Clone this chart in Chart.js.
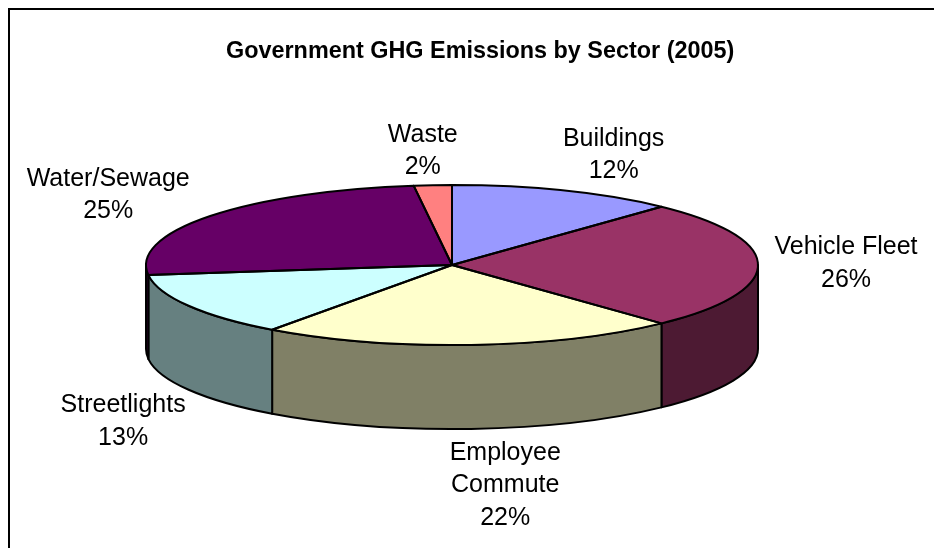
<!DOCTYPE html>
<html>
<head>
<meta charset="utf-8">
<title>Government GHG Emissions by Sector (2005)</title>
<script src="https://cdn.jsdelivr.net/npm/chart.js@4/dist/chart.umd.min.js"></script>
<style>
  html, body { margin: 0; padding: 0; background: #fff; }
  canvas { display: block; }
</style>
</head>
<body>
<canvas id="pieChart" width="934" height="548"></canvas>
<script>
const sectors = ["Buildings", "Vehicle Fleet", "Employee Commute", "Streetlights", "Water/Sewage", "Waste"];
const shares = [12, 26, 22, 13, 25, 2];

const topColors = ["#9999FF", "#993366", "#FFFFCC", "#CCFFFF", "#660066", "#FF8080"];
const wallColors = ["#4D4D80", "#4D1A33", "#808066", "#668080", "#330033", "#804040"];

// how the labels wrap, and where they sit relative to the rim of their slice
const labelLines = [["Buildings"], ["Vehicle Fleet"], ["Employee", "Commute"], ["Streetlights"], ["Water/Sewage"], ["Waste"]];
const labelOffsets = [[49, -35.5], [88, -1.5], [34, 140.5], [-65.5, 116], [-102, -21], [-10, -34]];

const RADIUS = 306;
const TILT = 80 / 306;   // squash of the top face
const DEPTH = 84;        // wall height
const EDGE = 2;
const TITLE_LEFT = 226;

const pie3d = {
  id: "pie3d",
  afterLayout(chart) {
    // the title is not centred over the pie
    chart.titleBlock.left = TITLE_LEFT;
    chart.titleBlock.right = chart.width;
  },
  beforeDraw(chart) {
    // the chart frame only shows on its top and left sides
    const ctx = chart.ctx;
    ctx.save();
    ctx.fillStyle = "#000";
    ctx.fillRect(8, 8, chart.width - 8, 2);
    ctx.fillRect(8, 8, 2, chart.height - 8);
    ctx.restore();
  },
  beforeDatasetsDraw(chart) {
    const ctx = chart.ctx;
    const arcs = chart.getDatasetMeta(0).data;
    const cx = arcs[0].x, cy = arcs[0].y;
    const ry = RADIUS * TILT;

    ctx.save();
    ctx.strokeStyle = "#000";
    ctx.lineWidth = EDGE;
    ctx.lineJoin = "round";
    arcs.forEach((arc, i) => {
      // only the front half of the rim has a visible wall
      const a0 = Math.max(arc.startAngle, 0);
      const a1 = Math.min(arc.endAngle, Math.PI);
      if (a1 <= a0) return;
      ctx.beginPath();
      ctx.ellipse(cx, cy, RADIUS, ry, 0, a0, a1);
      ctx.ellipse(cx, cy + DEPTH, RADIUS, ry, 0, a1, a0, true);
      ctx.closePath();
      ctx.fillStyle = wallColors[i];
      ctx.fill();
      ctx.stroke();
    });
    ctx.restore();

    // the arcs themselves are drawn by the library, flattened
    ctx.save();
    ctx.translate(cx, cy);
    ctx.scale(1, TILT);
    ctx.translate(-cx, -cy);
  },
  afterDatasetsDraw(chart) {
    const ctx = chart.ctx;
    ctx.restore();

    const arcs = chart.getDatasetMeta(0).data;
    const cx = arcs[0].x, cy = arcs[0].y;
    const ry = RADIUS * TILT;

    // outlines go on after the flattening so the line width stays even
    ctx.save();
    ctx.strokeStyle = "#000";
    ctx.lineWidth = EDGE;
    ctx.lineJoin = "round";
    arcs.forEach(arc => {
      ctx.beginPath();
      ctx.moveTo(cx, cy);
      ctx.ellipse(cx, cy, RADIUS, ry, 0, arc.startAngle, arc.endAngle);
      ctx.closePath();
      ctx.stroke();
    });
    ctx.restore();

    ctx.save();
    ctx.fillStyle = "#000";
    ctx.font = "25px 'Liberation Sans', Arial, sans-serif";
    ctx.textAlign = "center";
    ctx.textBaseline = "middle";
    arcs.forEach((arc, i) => {
      const mid = (arc.startAngle + arc.endAngle) / 2;
      const x = cx + RADIUS * Math.cos(mid) + labelOffsets[i][0];
      const y = cy + ry * Math.sin(mid) + labelOffsets[i][1];
      const lines = labelLines[i].concat(shares[i] + "%");
      lines.forEach((line, n) => {
        ctx.fillText(line, x, y + (n - (lines.length - 1) / 2) * 32.5);
      });
    });
    ctx.restore();
  }
};

new Chart(document.getElementById("pieChart"), {
  type: "pie",
  data: {
    labels: sectors,
    datasets: [{
      data: shares,
      backgroundColor: topColors,
      borderWidth: 0
    }]
  },
  options: {
    responsive: false,
    animation: false,
    radius: RADIUS,
    clip: false,
    layout: { padding: { left: 0, right: 30, top: 0, bottom: 84 } },
    plugins: {
      legend: { display: false },
      tooltip: { enabled: false },
      title: {
        display: true,
        text: "Government GHG Emissions by Sector (2005)",
        align: "start",
        color: "#000",
        font: { family: "'Liberation Sans', Arial, sans-serif", size: 23.4, weight: "bold", lineHeight: 1.2 },
        padding: { top: 38, bottom: 0 }
      }
    }
  },
  plugins: [pie3d]
});
</script>
</body>
</html>
